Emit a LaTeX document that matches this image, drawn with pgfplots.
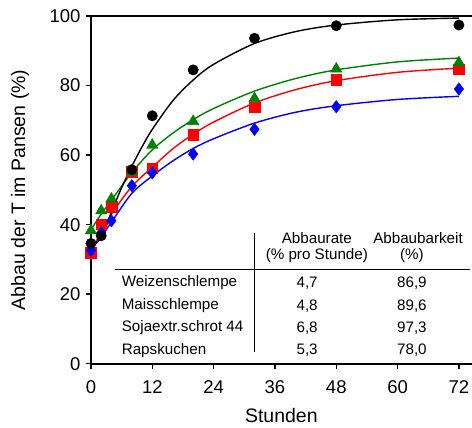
\documentclass[border=0pt]{standalone}
\usepackage{fontspec}
\setmainfont{Liberation Sans}
\usepackage{pgfplots}
\pgfplotsset{compat=1.18}

\definecolor{cgreen}{RGB}{0,128,0}

\begin{document}
\begin{tikzpicture}
\begin{axis}[scale only axis, width=381pt, height=348pt,
  xmin=0, xmax=74.5, ymin=0, ymax=100,
  xtick={0,12,24,36,48,60,72}, ytick={0,20,40,60,80,100},
  axis x line*=box, axis y line*=left, xtick pos=bottom, ytick pos=left,
  tick align=outside, major tick length=5pt,
  axis line style={line width=1.6pt}, every tick/.style={line width=1.4pt, black},
  tick label style={font=\fontsize{18.5}{20}\selectfont},
  xticklabel style={yshift=-8pt},
  yticklabel style={xshift=-2pt},
  /pgf/number format/assume math mode=true,
  xlabel={Stunden}, ylabel={Abbau der T im Pansen (\%)},
  label style={font=\fontsize{19.5}{22}\selectfont},
  xlabel style={at={(axis description cs:0.5,-0.149)}, anchor=center},
  ylabel style={at={(axis description cs:-0.186,0.5)}, anchor=center},
  clip=false]

% fitted curves
\addplot[red, line width=1.4pt, smooth] coordinates {(0,32.3)(2,38)(4,43)(8,51)(12,56.5)(16,61.8)(20,66)(24,69.5)(32,75)(40,78.8)(48,81.4)(60,83.8)(72,85)};
\addplot[cgreen, line width=1.4pt, smooth] coordinates {(0,38.5)(2,43)(4,47)(8,55)(12,61.5)(16,66.3)(20,70.2)(24,73.4)(32,78.4)(40,82)(48,84.5)(60,86.8)(72,87.9)};
\addplot[blue, line width=1.4pt, smooth] coordinates {(0,32.8)(2,36.5)(4,40.7)(8,49)(12,54)(16,58.3)(20,61.9)(24,64.7)(32,69.2)(40,72.3)(48,74.2)(60,76)(72,76.9)};
\addplot[black, line width=1.4pt, smooth] coordinates {(0,33.8)(1,34.6)(2,36.4)(3,39.6)(4,43.6)(6,50.6)(8,56.8)(10,62.4)(12,67.4)(16,75.6)(20,81.6)(24,86.1)(32,92.1)(40,95.5)(48,97.4)(60,98.9)(72,99.4)};

% measured values
\addplot[only marks, mark=square*, mark size=5.3pt, red] coordinates {(0,32.0)(2,40.1)(4,45.2)(8,55.3)(12,56.2)(20,65.8)(32,73.8)(48,81.6)(72,84.7)};
\addplot[only marks, mark=triangle*, mark size=6.5pt, cgreen] coordinates {(0,38.3)(2,44.0)(4,47.4)(8,55.0)(12,62.9)(20,69.7)(32,76.3)(48,84.8)(72,86.6)};
\addplot[only marks, mark=diamond*, mark size=6.3pt, blue] coordinates {(0,32.6)(2,37.7)(4,41.1)(8,51.2)(12,54.9)(20,60.3)(32,67.4)(48,73.9)(72,79.0)};
\addplot[only marks, mark=*, mark size=5.2pt, black] coordinates {(0,34.6)(2,36.8)(8,55.8)(12,71.3)(20,84.5)(32,93.6)(48,97.2)(72,97.4)};

% table
\draw[line width=0.8pt] (axis cs:4.7,27.2) -- (axis cs:74.2,27.2);
\draw[line width=0.8pt] (axis cs:31.9,37.6) -- (axis cs:31.9,3.5);
\begin{scope}[every node/.style={font=\fontsize{15.2}{17}\selectfont, inner sep=0pt}]
\node at (axis cs:44.2,36.1) {Abbaurate};
\node at (axis cs:44.2,31.0) {(\% pro Stunde)};
\node at (axis cs:64.0,36.1) {Abbaubarkeit};
\node at (axis cs:62.8,31.0) {(\%)};
\node[anchor=west] at (axis cs:6.0,23.2) {Weizenschlempe};
\node[anchor=west] at (axis cs:6.0,16.7) {Maisschlempe};
\node[anchor=west] at (axis cs:6.0,10.3) {Sojaextr.schrot 44};
\node[anchor=west] at (axis cs:6.0,3.8) {Rapskuchen};
\node at (axis cs:42.3,23.2) {4,7};
\node at (axis cs:42.3,16.7) {4,8};
\node at (axis cs:42.3,10.3) {6,8};
\node at (axis cs:42.3,3.8) {5,3};
\node at (axis cs:62.8,23.2) {86,9};
\node at (axis cs:62.8,16.7) {89,6};
\node at (axis cs:62.8,10.3) {97,3};
\node at (axis cs:62.8,3.8) {78,0};
\end{scope}
\coordinate (bbl) at (axis cs:-17.8,-18.4);
\coordinate (btr) at (axis cs:74.56,104.6);
\end{axis}
\pgfresetboundingbox
\useasboundingbox (bbl) rectangle (btr);
\end{tikzpicture}
\end{document}
